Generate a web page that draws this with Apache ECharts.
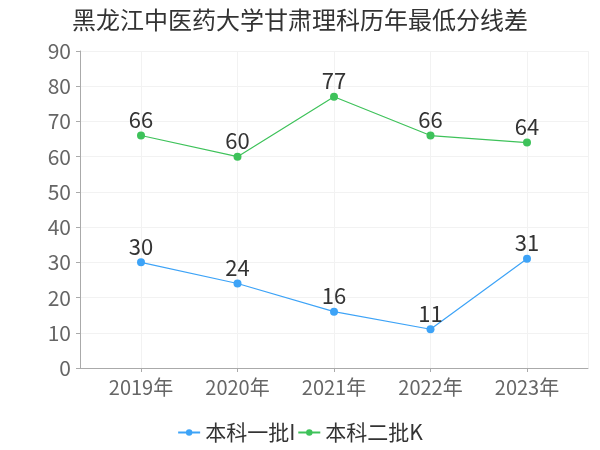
<!DOCTYPE html>
<html>
<head>
<meta charset="utf-8">
<script src="https://cdn.jsdelivr.net/npm/echarts@6/dist/echarts.min.js"></script>
<style>
  html, body { margin: 0; padding: 0; background: #fff; }
  #chart { width: 600px; height: 450px; }
</style>
</head>
<body>
<div id="chart"></div>
<script>
const years = ['2019年', '2020年', '2021年', '2022年', '2023年']
const batch1 = [30, 24, 16, 11, 31]
const batch2 = [66, 60, 77, 66, 64]
const seriesNames = ['本科一批I', '本科二批K']

const chart = echarts.init(document.getElementById('chart'))
const font = '"Noto Sans CJK SC", "Noto Sans", sans-serif'
const splitColor = '#f2f2f2'

const option = {
  animation: false,
  title: {
    text: '黑龙江中医药大学甘肃理科历年最低分线差',
    left: 'center',
    top: 3,
    textStyle: { fontFamily: font, fontSize: 24, fontWeight: 'normal', color: '#333' }
  },
  legend: {
    data: seriesNames,
    bottom: 2,
    itemWidth: 22,
    itemHeight: 8,
    itemGap: 2,
    textStyle: { fontFamily: font, fontSize: 21, color: '#333' }
  },
  grid: [
    { left: 80, right: 12, top: 51, bottom: 82 },
    { left: 92.75, right: 24.75, top: 51, bottom: 82 }
  ],
  xAxis: [
    {
      gridIndex: 0,
      type: 'value',
      min: 0,
      max: 1,
      interval: 1,
      offset: 4,
      axisLine: { show: true, lineStyle: { color: '#aaa' } },
      axisTick: { show: false },
      axisLabel: { show: false },
      splitLine: { show: true, lineStyle: { color: splitColor } }
    },
    {
      gridIndex: 1,
      type: 'category',
      data: years,
      boundaryGap: true,
      offset: 4,
      axisLine: { show: false },
      axisTick: { show: true, alignWithLabel: true, length: 4, lineStyle: { color: '#aaa' } },
      axisLabel: { fontFamily: font, fontSize: 20, color: '#666', margin: 5 },
      splitLine: { show: true, alignWithLabel: true, lineStyle: { color: splitColor } }
    }
  ],
  yAxis: [
    {
      gridIndex: 0,
      type: 'value',
      min: 0,
      max: 90,
      interval: 10,
      offset: 4,
      axisLine: { show: true, lineStyle: { color: '#aaa' } },
      axisTick: { show: true, length: 4, lineStyle: { color: '#aaa' } },
      axisLabel: { fontFamily: font, fontSize: 21, color: '#666', margin: 5 },
      splitLine: { show: true, lineStyle: { color: splitColor } }
    },
    {
      gridIndex: 1,
      type: 'value',
      min: 0,
      max: 90,
      interval: 10,
      show: false
    }
  ],
  series: [
    {
      name: seriesNames[0],
      type: 'line',
      xAxisIndex: 1,
      yAxisIndex: 1,
      data: batch1,
      symbol: 'circle',
      symbolSize: 8,
      color: '#3da3f7',
      lineStyle: { width: 1.2 },
      label: { show: true, position: 'top', distance: 1, fontFamily: font, fontSize: 22, color: '#333' }
    },
    {
      name: seriesNames[1],
      type: 'line',
      xAxisIndex: 1,
      yAxisIndex: 1,
      data: batch2,
      symbol: 'circle',
      symbolSize: 8,
      color: '#3ec25a',
      lineStyle: { width: 1.2 },
      label: { show: true, position: 'top', distance: 1, fontFamily: font, fontSize: 22, color: '#333' }
    }
  ]
}

chart.setOption(option)
</script>
</body>
</html>
